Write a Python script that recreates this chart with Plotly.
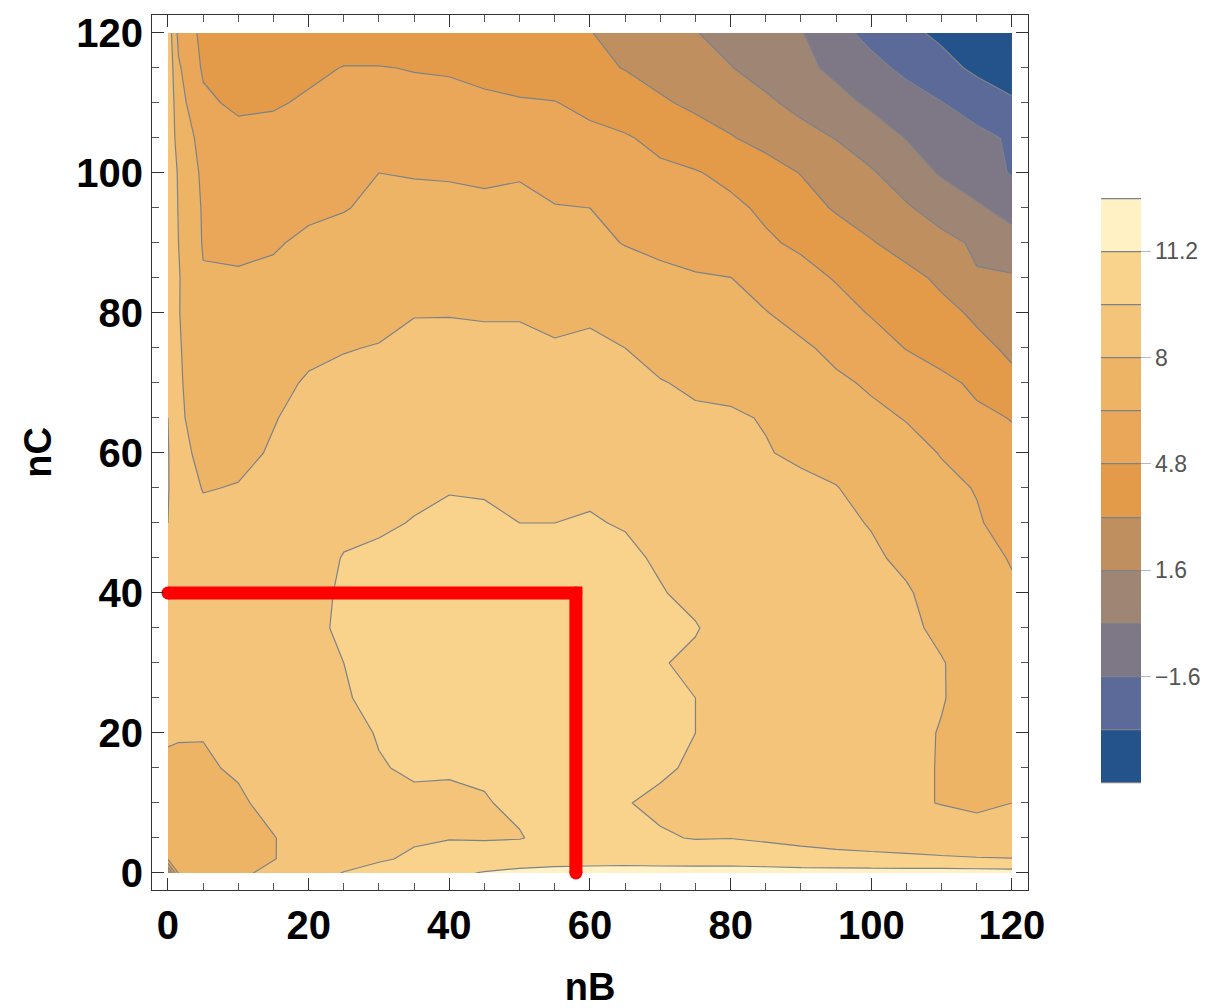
import plotly.graph_objects as go

# Grid coordinates (nB along x, nC along y)
nB_grid = [0, 1.5, 5, 10, 15, 20, 25, 30, 35, 40, 45, 50, 55, 60,
           65, 70, 75, 80, 85, 90, 95, 100, 105, 110, 115, 120]
nC_grid = [0, 2, 5, 10, 15, 20, 25, 30, 35, 40, 45, 50, 55, 60,
           65, 70, 75, 80, 85, 90, 95, 100, 105, 110, 115, 120]

# Surface values, one row per nC value (bottom to top)
value_rows = [
    [1.0, 6.5, 7.0, 7.7, 8.4, 9.1, 9.65, 10.1, 10.5, 10.9, 11.3, 11.6, 11.8, 11.9, 12.0, 12.0, 12.0, 12.0, 12.0, 11.95, 11.95, 11.9, 11.9, 11.9, 11.85, 11.8],
    [6.5, 6.9, 7.2, 7.55, 7.95, 8.6, 9.1, 9.45, 9.8, 10.1, 10.3, 10.4, 10.5, 10.5, 10.5, 10.4, 10.35, 10.4, 10.2, 10.0, 9.9, 9.85, 9.8, 9.75, 9.7, 9.65],
    [6.8, 7.0, 7.3, 7.6, 7.95, 8.55, 9.0, 9.3, 9.45, 9.55, 9.5, 9.55, 9.9, 9.95, 9.85, 9.7, 9.55, 9.58, 9.45, 9.35, 9.25, 9.15, 9.05, 8.85, 8.5, 8.3],
    [7.0, 7.2, 7.45, 7.8, 8.4, 8.8, 9.15, 9.5, 9.45, 9.5, 9.55, 9.75, 9.85, 9.85, 9.65, 9.4, 9.25, 9.1, 9.0, 8.85, 8.65, 8.45, 8.2, 7.95, 7.8, 8.0],
    [7.4, 7.6, 7.85, 8.15, 8.6, 8.95, 9.3, 9.55, 9.7, 9.65, 9.7, 9.85, 9.95, 10.0, 9.9, 9.75, 9.45, 9.2, 9.0, 8.85, 8.65, 8.45, 8.2, 7.95, 7.6, 7.4],
    [8.4, 8.15, 8.05, 8.5, 8.85, 9.1, 9.35, 9.65, 10.0, 10.25, 10.35, 10.35, 10.3, 10.25, 10.0, 9.8, 9.6, 9.3, 9.1, 8.9, 8.7, 8.5, 8.25, 7.95, 7.6, 7.35],
    [8.7, 8.75, 8.7, 8.8, 9.0, 9.25, 9.5, 9.9, 10.2, 10.35, 10.45, 10.4, 10.35, 10.3, 10.05, 9.75, 9.6, 9.3, 9.1, 8.95, 8.75, 8.55, 8.3, 8.05, 7.65, 7.3],
    [9.0, 8.9, 8.75, 8.85, 9.0, 9.3, 9.6, 10.0, 10.3, 10.4, 10.45, 10.4, 10.35, 10.3, 10.0, 9.65, 9.45, 9.2, 9.05, 8.9, 8.7, 8.5, 8.3, 8.05, 7.6, 7.1],
    [9.1, 8.9, 8.7, 8.8, 8.95, 9.3, 9.8, 10.1, 10.25, 10.35, 10.4, 10.35, 10.3, 10.25, 10.1, 9.9, 9.65, 9.25, 9.05, 8.85, 8.65, 8.45, 8.2, 7.8, 7.35, 6.85],
    [9.2, 8.9, 8.6, 8.7, 8.9, 9.25, 9.75, 10.0, 10.1, 10.2, 10.2, 10.15, 10.1, 10.1, 9.95, 9.65, 9.4, 9.1, 8.9, 8.7, 8.5, 8.3, 8.1, 7.6, 7.15, 6.6],
    [9.3, 8.9, 8.5, 8.6, 8.8, 9.15, 9.65, 9.8, 9.9, 10.0, 10.0, 9.9, 9.85, 9.9, 9.75, 9.5, 9.2, 8.95, 8.75, 8.55, 8.35, 8.15, 7.8, 7.3, 6.9, 6.3],
    [9.6, 8.8, 8.3, 8.4, 8.6, 8.95, 9.35, 9.45, 9.65, 9.8, 9.8, 9.6, 9.6, 9.65, 9.55, 9.25, 9.0, 8.8, 8.6, 8.4, 8.2, 7.95, 7.5, 7.0, 6.5, 6.0],
    [9.7, 8.6, 7.95, 8.05, 8.3, 8.7, 9.1, 9.1, 9.4, 9.55, 9.5, 9.55, 9.45, 9.5, 9.3, 9.0, 8.75, 8.55, 8.35, 8.2, 8.05, 7.5, 7.15, 6.65, 6.35, 5.5],
    [9.7, 8.35, 7.7, 7.75, 8.1, 8.5, 8.85, 8.85, 9.1, 9.25, 9.2, 9.25, 9.1, 9.0, 8.95, 8.7, 8.45, 8.3, 8.05, 7.85, 7.5, 7.05, 6.75, 6.35, 5.65, 5.15],
    [9.6, 8.2, 7.45, 7.6, 7.95, 8.3, 8.55, 8.55, 8.8, 8.95, 8.85, 8.9, 8.8, 8.7, 8.65, 8.4, 8.15, 8.1, 7.95, 7.45, 7.05, 6.65, 6.35, 5.75, 5.1, 4.75],
    [9.6, 8.15, 7.3, 7.35, 7.75, 8.1, 8.25, 8.3, 8.55, 8.6, 8.55, 8.55, 8.45, 8.45, 8.35, 8.05, 7.85, 7.8, 7.35, 7.05, 6.6, 6.25, 5.65, 5.2, 4.5, 3.45],
    [9.6, 8.1, 7.25, 7.1, 7.35, 7.8, 7.95, 8.05, 8.3, 8.35, 8.3, 8.3, 8.1, 8.2, 8.0, 7.65, 7.4, 7.3, 6.9, 6.6, 6.1, 5.45, 4.75, 4.1, 3.5, 3.0],
    [9.6, 8.05, 7.1, 6.85, 7.0, 7.4, 7.55, 7.7, 7.95, 7.95, 7.9, 7.9, 7.75, 7.85, 7.45, 7.15, 6.95, 6.85, 6.45, 5.95, 5.35, 4.7, 4.15, 3.55, 3.0, 2.3],
    [9.5, 8.1, 6.5, 6.5, 6.6, 7.0, 7.15, 7.4, 7.55, 7.6, 7.5, 7.5, 7.3, 7.3, 6.95, 6.75, 6.55, 6.42, 5.85, 5.3, 4.7, 4.15, 3.6, 2.95, 1.7, 1.75],
    [9.5, 8.0, 6.3, 6.2, 6.3, 6.6, 6.75, 7.05, 7.1, 7.1, 7.0, 7.05, 6.9, 6.7, 6.35, 6.05, 5.7, 5.35, 5.0, 4.55, 3.95, 3.3, 2.65, 2.0, 1.4, 0.65],
    [9.4, 7.9, 6.25, 5.8, 5.9, 6.2, 6.35, 6.6, 6.65, 6.55, 6.65, 6.7, 6.45, 6.4, 5.9, 5.65, 5.45, 5.1, 4.55, 3.8, 3.05, 2.45, 1.75, 1.0, 0.25, -0.6],
    [9.4, 7.8, 6.1, 5.6, 5.7, 5.9, 6.15, 6.4, 6.35, 6.35, 6.2, 6.3, 6.0, 5.8, 5.35, 5.1, 4.9, 4.45, 3.85, 3.15, 2.45, 1.75, 0.85, -0.15, -0.95, -1.7],
    [9.3, 7.3, 5.9, 5.3, 5.3, 5.3, 5.5, 5.8, 5.8, 5.8, 5.6, 5.6, 5.35, 5.15, 4.95, 4.4, 3.85, 3.3, 2.7, 2.1, 1.55, 0.8, -0.05, -0.6, -1.2, -1.8],
    [9.3, 7.0, 5.1, 4.5, 4.65, 5.0, 5.15, 5.2, 5.15, 5.1, 5.0, 4.9, 4.85, 4.45, 3.9, 3.4, 2.9, 2.4, 1.85, 1.2, 0.5, -0.25, -0.9, -1.55, -2.3, -3.0],
    [9.2, 6.6, 4.6, 4.3, 4.3, 4.5, 4.85, 4.85, 4.75, 4.7, 4.5, 4.3, 4.0, 3.5, 3.15, 2.65, 2.15, 1.65, 1.05, 0.4, -0.35, -1.15, -1.95, -2.7, -3.5, -4.0],
    [9.0, 6.0, 4.4, 4.2, 4.0, 4.0, 4.0, 4.0, 4.1, 3.9, 3.8, 3.6, 3.4, 3.25, 2.7, 2.2, 1.65, 1.15, 0.6, 0.1, -1.1, -2.05, -2.85, -3.5, -4.0, -4.4],
]

# Contour levels: band edges run from -4.8 to 12.8 in steps of 1.6
level_start, level_end, level_step = -4.8, 12.8, 1.6
# Band colours, lowest band (-4.8 .. -3.2) first
band_colors = ["#23538a", "#5b6a98", "#7d7786", "#9e8574", "#bf8f5f",
               "#e39b49", "#eaa75a", "#eeb466", "#f4c47a", "#f9d38b", "#fff1c3"]
cbar_tickvals = [-1.6, 1.6, 4.8, 8, 11.2]
cbar_ticktext = ["\u22121.6", "1.6", "4.8", "8", "11.2"]

# Highlighted path through the (nB, nC) plane
path_nB = [0, 58, 58]
path_nC = [40, 40, 0]

axis_ticks = [0, 20, 40, 60, 80, 100, 120]

# Stepped colourscale. Plotly samples each filled band at its midpoint,
# over a domain that reaches half a step beyond the outer levels; those
# two outer half-steps stay white so the colour bar ends at -4.8 / 12.8.
n_steps = len(band_colors) + 2
scale = []
for j in range(n_steps):
    col = "#ffffff" if j in (0, n_steps - 1) else band_colors[j - 1]
    lo = max(0.0, (j - 0.5) / (n_steps - 1))
    hi = min(1.0, (j + 0.5) / (n_steps - 1))
    scale.append([lo, col])
    scale.append([hi, col])

bar_px_per_unit = 585 / (level_end - level_start)
bar_len = bar_px_per_unit * (level_end - level_start + level_step)

BOLD = "Liberation Sans, Arial, sans-serif"

fig = go.Figure()
fig.add_trace(go.Contour(
    x=nB_grid, y=nC_grid, z=value_rows,
    autocontour=False,
    contours=dict(start=level_start, end=level_end, size=level_step,
                  coloring="fill", showlines=True),
    line=dict(color="#7d8288", width=1.2, smoothing=0),
    colorscale=scale,
    hoverinfo="skip",
    colorbar=dict(
        thickness=40, thicknessmode="pixels",
        len=bar_len, lenmode="pixels",
        x=1.0833, xanchor="left", xpad=0,
        y=0.4566, yanchor="middle", ypad=0,
        outlinewidth=0,
        tickmode="array", tickvals=cbar_tickvals, ticktext=cbar_ticktext,
        ticks="outside", ticklen=10, tickwidth=1, tickcolor="#b8b8b8",
        tickfont=dict(family=BOLD, size=23, color="#555555"),
    ),
))

fig.add_trace(go.Scatter(
    x=path_nB, y=path_nC, mode="lines+markers",
    line=dict(color="#ff0000", width=13),
    marker=dict(size=13, color="#ff0000"),
    hoverinfo="skip", showlegend=False,
))

axis_common = dict(
    tickmode="array", tickvals=axis_ticks,
    ticks="inside", ticklen=12, tickwidth=1.2, tickcolor="#333333",
    showline=True, linecolor="#333333", linewidth=1.2, mirror="allticks",
    showgrid=False, zeroline=False, automargin=False,
    tickfont=dict(family=BOLD, size=40, color="#000000", weight="bold"),
    minor=dict(ticks="inside", ticklen=7, tickwidth=1, tickcolor="#555555",
               dtick=5, tick0=0, showgrid=False),
)

fig.update_layout(
    width=1214, height=1008,
    margin=dict(l=152, r=186, t=15, b=118),
    paper_bgcolor="white", plot_bgcolor="white",
    showlegend=False,
    xaxis=dict(range=[-2.27, 122.28],
               title=dict(text="nB", standoff=32,
                          font=dict(family=BOLD, size=38, color="#000000", weight="bold")),
               **axis_common),
    yaxis=dict(range=[-2.43, 122.57],
               title=dict(text="nC", standoff=12,
                          font=dict(family=BOLD, size=38, color="#000000", weight="bold")),
               **axis_common),
)

fig.write_html("out.html")
